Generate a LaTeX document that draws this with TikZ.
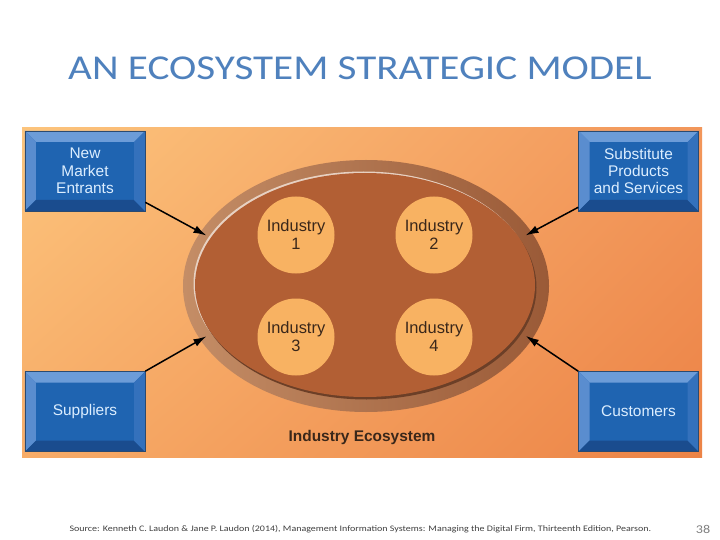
\documentclass[tikz,border=0pt]{standalone}
\usepackage{fontspec}
\newfontfamily\slidefont[FakeStretch=1.18]{Carlito}
\newfontfamily\arialfont{Liberation Sans}
\usepackage{xcolor}
\definecolor{ecotitle}{HTML}{4F81BD}
\definecolor{ecoface}{HTML}{1F64B1}
\definecolor{ecotop}{HTML}{6C9CD8}
\definecolor{ecoleft}{HTML}{5A8DCF}
\definecolor{ecobot}{HTML}{1A4C8E}
\definecolor{ecoright}{HTML}{3471BC}
\definecolor{ecoedge}{HTML}{2B4A70}
\definecolor{ecotext}{HTML}{DCEEFF}
\definecolor{ecoring}{HTML}{C48D66}
\definecolor{ecoringdk}{HTML}{9A5A37}
\definecolor{ecoinner}{HTML}{B25F34}
\definecolor{ecoind}{HTML}{F8B262}
\definecolor{ecoink}{HTML}{3A271A}
\definecolor{ecobgul}{HTML}{FCC47C}
\definecolor{ecobgur}{HTML}{F2965A}
\definecolor{ecobgll}{HTML}{F7AC68}
\definecolor{ecobglr}{HTML}{EC8346}
\usepackage{tikz}
\usetikzlibrary{arrows.meta,positioning,shapes.geometric,shadings,calc}
\tikzset{
  ecobox/.style={draw=ecoedge,line width=0.6bp,fill=ecoface,minimum width=120bp,minimum height=80bp,inner sep=0pt,align=center,text=ecotext,font=\arialfont\fontsize{15.5}{17.5}\selectfont,
    path picture={
      \coordinate (bnw) at (path picture bounding box.north west);
      \coordinate (bne) at (path picture bounding box.north east);
      \coordinate (bsw) at (path picture bounding box.south west);
      \coordinate (bse) at (path picture bounding box.south east);
      \fill[ecotop] (bnw)--(bne)--([shift={(-11bp,-11bp)}]bne)--([shift={(11bp,-11bp)}]bnw)--cycle;
      \fill[ecoleft] (bnw)--(bsw)--([shift={(11bp,11bp)}]bsw)--([shift={(11bp,-11bp)}]bnw)--cycle;
      \fill[ecobot] (bsw)--(bse)--([shift={(-11bp,11bp)}]bse)--([shift={(11bp,11bp)}]bsw)--cycle;
      \fill[ecoright] (bne)--(bse)--([shift={(-11bp,11bp)}]bse)--([shift={(-11bp,-11bp)}]bne)--cycle;
    }},
  ecocirc/.style={circle,fill=ecoind,minimum size=77bp,inner sep=0pt,align=center,text=ecoink,font=\arialfont\fontsize{16.5}{18}\selectfont},
  ecoflow/.style={-{Latex[length=13bp,width=8bp]},line width=1.5bp,black,shorten >=-7bp},
  ecolabel/.style={font=\arialfont\bfseries\fontsize{15.5}{18}\selectfont,text=ecoink},
}
\begin{document}
\begin{tikzpicture}[x=1bp,y=-1bp]
\useasboundingbox[fill=white] (0,0) rectangle (720,540);
\node[font=\slidefont\fontsize{35}{40}\selectfont,text=ecotitle] (title) at (360,68) {AN ECOSYSTEM STRATEGIC MODEL};
% panel
\shade[upper left=ecobgul,upper right=ecobgur,lower left=ecobgll,lower right=ecobglr] (22,128) rectangle (702,457);
\node[ellipse,minimum width=366bp,minimum height=252bp,inner sep=0pt,left color=ecoring,right color=ecoringdk] (eco) at (366,286) {};
\fill[ecoring!40!white] (363.5,283.5) ellipse [x radius=170,y radius=112];
\fill[ecoringdk!70!black] (366.5,287.5) ellipse [x radius=170,y radius=112];
\fill[ecoinner] (365,285) ellipse [x radius=170,y radius=112];
\node[ecocirc] (ind1) at (296,235) {Industry\\1};
\node[ecocirc] (ind2) at (434,235) {Industry\\2};
\node[ecocirc] (ind3) at (296,337) {Industry\\3};
\node[ecocirc] (ind4) at (434,337) {Industry\\4};
\node[ecolabel] (ecolbl) at (362,438) {Industry Ecosystem};
\node[ecobox] (nme) at (85,171) {New\\Market\\Entrants};
\node[ecobox] (sub) at (638.5,171) {Substitute\\Products\\and Services};
\node[ecobox] (sup) at (85,411.5) {Suppliers};
\node[ecobox] (cus) at (638.5,411.5) {Customers};
\draw[ecoflow] ([yshift=9bp]nme.south east) -- (eco.162);
\draw[ecoflow] ([yshift=4bp]sub.south west) -- (eco.18);
\draw[ecoflow] (sup.north east) -- (eco.198);
\draw[ecoflow] (cus.north west) -- (eco.342);
\node[anchor=west,font=\slidefont\fontsize{8.5}{10}\selectfont,text=black!75] (src) at (66,529) {Source: Kenneth C. Laudon \& Jane P. Laudon (2014), Management Information Systems: Managing the Digital Firm, Thirteenth Edition, Pearson.};
\node[font=\slidefont\fontsize{12}{14}\selectfont,text=black!50] (pg) at (703,529) {38};
\end{tikzpicture}
\end{document}
